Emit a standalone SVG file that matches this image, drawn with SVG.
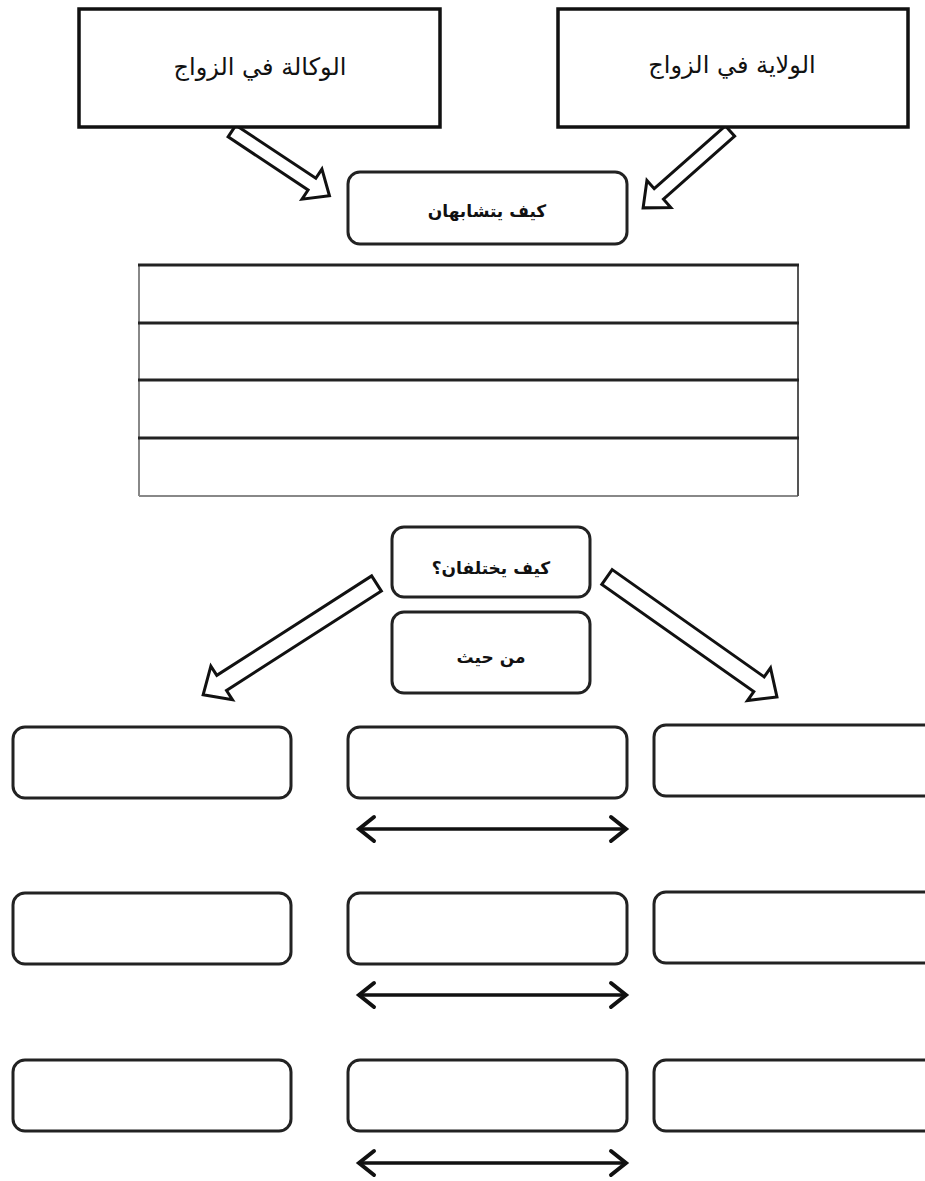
<svg xmlns="http://www.w3.org/2000/svg" width="925" height="1181" viewBox="0 0 925 1181">
  <style>
    .box { fill: #fff; stroke: #111; stroke-width: 3.5; }
    .rbox { fill: #fff; stroke: #222; stroke-width: 3; }
    .blk { fill: #fff; stroke: #111; stroke-width: 3; stroke-linejoin: miter; }
    .dbl { stroke: #111; stroke-width: 3.5; fill: none; stroke-linecap: round; }
    .head { stroke: #111; stroke-width: 4; fill: none; stroke-linecap: round; stroke-linejoin: miter; }
    .ttl { font-family: "DejaVu Sans", sans-serif; font-size: 24px; fill: #111; text-anchor: middle; }
    .lbl { font-family: "DejaVu Sans", sans-serif; font-size: 17px; font-weight: bold; fill: #111; text-anchor: middle; }
    .tline { stroke: #222; stroke-width: 3; }
    .tgray { stroke: #888; stroke-width: 2; fill: none; }
  </style>
  <rect width="925" height="1181" fill="#fff"/>

  <g id="connectors">
    <polygon class="blk" transform="translate(232,131) rotate(33.6)" points="0,-7 96,-7 96,-18 117,0 96,18 96,7 0,7"/>
    <polygon class="blk" transform="translate(730,131) rotate(138.5)" points="0,-7 95,-7 95,-18 116,0 95,18 95,7 0,7"/>
    <polygon class="blk" transform="translate(376.5,583.5) rotate(147.3)" points="0,-9 184,-9 184,-20 206,0 184,20 184,9 0,9"/>
    <polygon class="blk" transform="translate(607,577) rotate(35.2)" points="0,-9 186,-9 186,-20 208,0 186,20 186,9 0,9"/>
    <g id="dbl1">
      <line class="dbl" x1="360" y1="829" x2="625" y2="829"/>
      <polyline class="head" points="374,817 359,829 374,841"/>
      <polyline class="head" points="611,817 626,829 611,841"/>
    </g>
    <g id="dbl2">
      <line class="dbl" x1="360" y1="995" x2="625" y2="995"/>
      <polyline class="head" points="374,983 359,995 374,1007"/>
      <polyline class="head" points="611,983 626,995 611,1007"/>
    </g>
    <g id="dbl3">
      <line class="dbl" x1="360" y1="1163" x2="625" y2="1163"/>
      <polyline class="head" points="374,1151 359,1163 374,1175"/>
      <polyline class="head" points="611,1151 626,1163 611,1175"/>
    </g>
  </g>

  <g id="node-wakala">
    <rect class="box" x="79" y="9" width="361" height="118"/>
    <text class="ttl" x="260" y="75">الوكالة في الزواج</text>
  </g>
  <g id="node-wilaya">
    <rect class="box" x="558" y="9" width="350" height="118"/>
    <text class="ttl" x="732" y="73">الولاية في الزواج</text>
  </g>
  <g id="node-similar">
    <rect class="rbox" x="348" y="172" width="279" height="72" rx="12"/>
    <text class="lbl" x="487" y="217">كيف يتشابهان</text>
  </g>
  <g id="node-table">
    <rect x="138" y="265" width="660" height="231" fill="#fff"/>
    <line class="tgray" x1="139" y1="265" x2="139" y2="496"/>
    <line class="tgray" x1="139" y1="496" x2="798" y2="496"/>
    <line x1="798" y1="265" x2="798" y2="496" stroke="#555" stroke-width="2"/>
    <line class="tline" x1="138" y1="265" x2="799" y2="265"/>
    <line class="tline" x1="138" y1="323" x2="799" y2="323"/>
    <line class="tline" x1="138" y1="380" x2="799" y2="380"/>
    <line class="tline" x1="138" y1="438" x2="799" y2="438"/>
  </g>
  <g id="node-differ">
    <rect class="rbox" x="392" y="527" width="198" height="70" rx="12"/>
    <text class="lbl" x="491" y="574">كيف يختلفان؟</text>
  </g>
  <g id="node-haythu">
    <rect class="rbox" x="392" y="612" width="198" height="81" rx="12"/>
    <text class="lbl" x="491" y="663">من حيث</text>
  </g>

  <g id="row1">
    <rect class="rbox" x="13" y="727" width="278" height="71" rx="12"/>
    <rect class="rbox" x="348" y="727" width="279" height="71" rx="12"/>
    <rect class="rbox" x="654" y="725" width="285" height="71" rx="12"/>
  </g>
  <g id="row2">
    <rect class="rbox" x="13" y="893" width="278" height="71" rx="12"/>
    <rect class="rbox" x="348" y="893" width="279" height="71" rx="12"/>
    <rect class="rbox" x="654" y="892" width="285" height="71" rx="12"/>
  </g>
  <g id="row3">
    <rect class="rbox" x="13" y="1060" width="278" height="71" rx="12"/>
    <rect class="rbox" x="348" y="1060" width="279" height="71" rx="12"/>
    <rect class="rbox" x="654" y="1060" width="285" height="71" rx="12"/>
  </g>
</svg>
